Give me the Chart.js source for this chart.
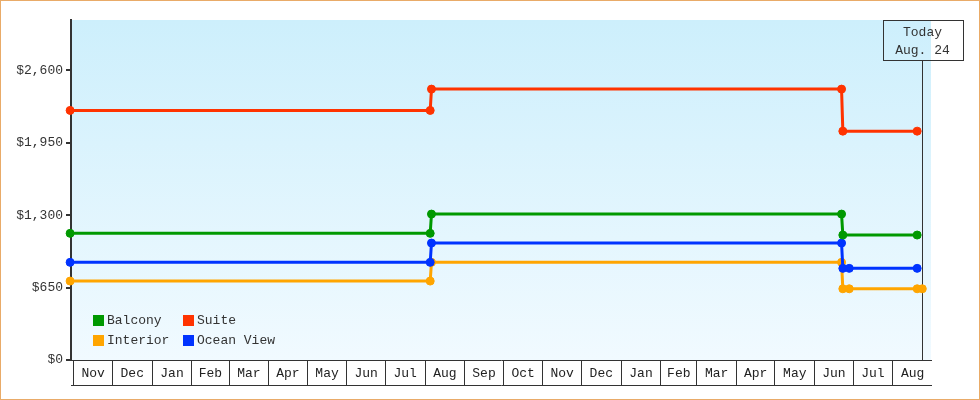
<!DOCTYPE html>
<html>
<head>
<meta charset="utf-8">
<title>Cabin prices</title>
<script src="https://cdn.jsdelivr.net/npm/chart.js@4.4.1/dist/chart.umd.min.js"></script>
<style>
    html, body { margin: 0; padding: 0; background: #fff; }
    #ChartWrap { position: relative; width: 980px; height: 400px; }
    #PriceChart { position: absolute; left: 0; top: 0; }
    #Frame { position: absolute; left: 0; top: 0; width: 978px; height: 398px; border: 1px solid #e9ab68; pointer-events: none; }
    #PriceLegend {
        position: absolute; left: 93px; top: 310px;
        display: grid; grid-template-columns: 90px 110px; grid-auto-rows: 20px;
        font: 13px "Liberation Mono", monospace; color: #333;
    }
    #PriceLegend .item { display: flex; align-items: center; white-space: nowrap; }
    #PriceLegend .swatch { width: 11px; height: 11px; margin-right: 3px; }
</style>
</head>
<body>
<div id="ChartWrap">
    <canvas id="PriceChart" width="980" height="400"></canvas>
    <div id="PriceLegend"></div>
    <div id="Frame"></div>
</div>
<script>
// month boxes along the bottom, Nov 2023 .. Aug 2025
const monthLabels = ['Nov', 'Dec', 'Jan', 'Feb', 'Mar', 'Apr', 'May', 'Jun', 'Jul', 'Aug', 'Sep',
                     'Oct', 'Nov', 'Dec', 'Jan', 'Feb', 'Mar', 'Apr', 'May', 'Jun', 'Jul', 'Aug'];
const yTicks = [0, 650, 1300, 1950, 2600];

const balconyDates  = ['2023-10-29', '2024-08-05', '2024-08-06', '2025-06-22', '2025-06-23', '2025-08-20'];
const balconyPrices = [1136, 1136, 1309, 1309, 1121, 1121];

const suiteDates  = ['2023-10-29', '2024-08-05', '2024-08-06', '2025-06-22', '2025-06-23', '2025-08-20'];
const suitePrices = [2239, 2239, 2430, 2430, 2053, 2053];

const interiorDates  = ['2023-10-29', '2024-08-05', '2024-08-06', '2025-06-22', '2025-06-23', '2025-06-28', '2025-08-20', '2025-08-24'];
const interiorPrices = [708, 708, 876, 876, 639, 639, 639, 639];

const oceanDates  = ['2023-10-29', '2024-08-05', '2024-08-06', '2025-06-22', '2025-06-23', '2025-06-28', '2025-08-20'];
const oceanPrices = [876, 876, 1049, 1049, 822, 822, 822];

const todayDate = '2025-08-24';
const todayText = ['Today', 'Aug. 24'];

const FONT = '"Liberation Mono", monospace';
const startDay = Date.UTC(2023, 10, 1);

function dayOf(str){
    let p = str.split('-');
    return (Date.UTC(+p[0], +p[1] - 1, +p[2]) - startDay) / 86400000;
}

function toPoints(dates, prices){
    return dates.map((d, i) => ({ x: dayOf(d), y: prices[i] }));
}

// month start / middle positions in days
const monthEdges = [];
const monthMids = [];
for (let i = 0; i < monthLabels.length; i++) {
    let a = (Date.UTC(2023, 10 + i, 1) - startDay) / 86400000;
    let b = (Date.UTC(2023, 11 + i, 1) - startDay) / 86400000;
    monthEdges.push(a);
    monthMids.push((a + b) / 2);
}

function makeSet(label, color, dates, prices, order){
    return {
        label: label,
        data: toPoints(dates, prices),
        order: order,
        borderColor: color,
        backgroundColor: color,
        borderWidth: 3,
        pointRadius: 4,
        pointBorderWidth: 1,
        pointBackgroundColor: color,
        pointBorderColor: color,
        tension: 0,
        clip: false
    };
}

const plotBackground = {
    id: 'plotBackground',
    beforeDraw(chart){
        const { ctx, chartArea: a } = chart;
        let g = ctx.createLinearGradient(0, a.top, 0, a.bottom);
        g.addColorStop(0, '#cdeffc');
        g.addColorStop(1, '#f1faff');
        ctx.save();
        ctx.fillStyle = g;
        ctx.fillRect(a.left, a.top, a.right - a.left, a.bottom - a.top);
        ctx.restore();
    }
};

const todayMarker = {
    id: 'todayMarker',
    beforeDatasetsDraw(chart){
        const { ctx, chartArea: a } = chart;
        let x = Math.round(chart.scales.x.getPixelForValue(dayOf(todayDate))) + 0.5;
        let boxTop = a.top + 0.5, boxH = 40, boxW = 80;
        ctx.save();
        ctx.strokeStyle = '#333';
        ctx.lineWidth = 1;
        ctx.beginPath();
        ctx.moveTo(x, a.top + boxH);
        ctx.lineTo(x, a.bottom);
        ctx.stroke();
        ctx.strokeRect(Math.round(x - boxW / 2) + 0.5, boxTop, boxW, boxH);
        ctx.fillStyle = '#333';
        ctx.font = '13px ' + FONT;
        ctx.textAlign = 'center';
        ctx.textBaseline = 'middle';
        ctx.fillText(todayText[0], x, a.top + 13);
        ctx.fillText(todayText[1], x, a.top + 31);
        ctx.restore();
    }
};

const canvas = document.getElementById('PriceChart');
const chart = new Chart(canvas.getContext('2d'), {
    type: 'line',
    data: {
        datasets: [
            makeSet('Balcony', '#009900', balconyDates, balconyPrices, 0),
            makeSet('Suite', '#ff3300', suiteDates, suitePrices, 0),
            makeSet('Interior', '#ffa500', interiorDates, interiorPrices, 2),
            makeSet('Ocean View', '#0033ff', oceanDates, oceanPrices, 1)
        ]
    },
    options: {
        responsive: false,
        animation: false,
        layout: { padding: { top: 20, right: 49, bottom: 15, left: 0 } },
        plugins: {
            legend: { display: false },
            tooltip: { enabled: false }
        },
        scales: {
            x: {
                type: 'linear',
                position: 'bottom',
                weight: 0,
                min: -2.3,
                max: 668.8,
                afterBuildTicks: (scale) => {
                    let t = [];
                    monthEdges.forEach((e, i) => {
                        t.push({ value: e });
                        t.push({ value: monthMids[i] });
                    });
                    scale.ticks = t;
                },
                afterFit: (scale) => { scale.height = 25; },
                border: { display: true, color: '#333', width: 1 },
                grid: {
                    drawOnChartArea: false,
                    tickLength: 25,
                    lineWidth: 1,
                    color: (c) => (c.tick && monthMids.indexOf(c.tick.value) >= 0) ? 'rgba(0,0,0,0)' : '#333'
                },
                ticks: {
                    autoSkip: false,
                    maxRotation: 0,
                    minRotation: 0,
                    padding: -19,
                    color: '#222',
                    font: { size: 13, family: FONT },
                    callback: (value) => {
                        let i = monthMids.indexOf(value);
                        return i >= 0 ? monthLabels[i] : '';
                    }
                }
            },
            xBottom: {
                type: 'linear',
                position: 'bottom',
                weight: 1,
                afterFit: (scale) => { scale.height = 0; },
                border: { display: true, color: '#333', width: 1 },
                grid: { display: false },
                ticks: { display: false }
            },
            y: {
                min: 0,
                max: 3050,
                afterBuildTicks: (scale) => { scale.ticks = yTicks.map(v => ({ value: v })); },
                afterFit: (scale) => { scale.width = 71; },
                border: { display: true, color: '#333', width: 2 },
                grid: { drawOnChartArea: false, tickLength: 5, lineWidth: 2, color: '#333' },
                ticks: {
                    padding: 3,
                    color: '#333',
                    font: { size: 13, family: FONT },
                    callback: (v) => '$' + v.toLocaleString('en-US')
                }
            }
        }
    },
    plugins: [plotBackground, todayMarker]
});

// legend drawn in two columns inside the plot
const legendBox = document.getElementById('PriceLegend');
chart.data.datasets.forEach(ds => {
    legendBox.innerHTML += `<div class="item"><span class="swatch" style="background:${ds.borderColor}"></span>${ds.label}</div>`;
});
</script>
</body>
</html>
